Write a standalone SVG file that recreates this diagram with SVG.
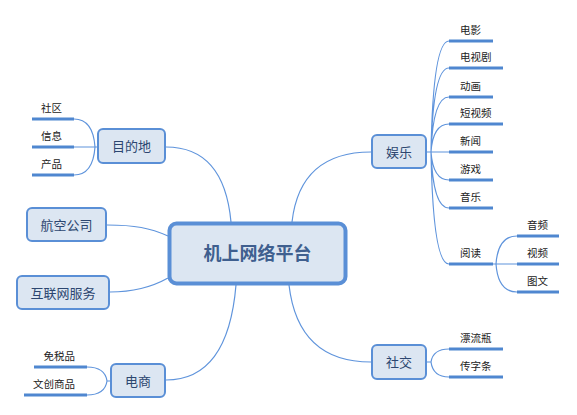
<svg xmlns="http://www.w3.org/2000/svg" width="577" height="415" viewBox="0 0 577 415">
<style>
.bg{fill:#ffffff}
.node rect{fill:#dce6f2;stroke:#5a8fd6;stroke-width:2}
.node text{font-family:"Noto Sans CJK SC","Noto Sans",sans-serif;font-size:13px;fill:#2c4670;text-anchor:middle}
#root rect{stroke-width:4}
#root text{font-size:18px;font-weight:bold;fill:#3f5f8f}
.conn path{fill:none;stroke:#5f94dc;stroke-width:1.2}
.leaf line{stroke:#4f87d0;stroke-width:3}
.leaf text{font-family:"Noto Sans CJK SC","Noto Sans",sans-serif;font-size:10.5px;fill:#222}
.l{text-anchor:end}
</style>
<rect class="bg" width="577" height="415"/>
<g id="connectors" class="conn">
<path d="M166,147 Q224,147 231,222"/>
<path d="M371,152 Q300,152 292,222"/>
<path d="M107,225 C135,225 150,228 168,236"/>
<path d="M110,292 C135,292 152,287 168,278"/>
<path d="M166,380 Q228,380 236,285"/>
<path d="M371,362 Q298,362 289,285"/>
<path d="M97,147 H95 M95,147 Q93,119 74,119 M95,147 H74 M95,147 Q93,175 74,175"/>
<path d="M110,381 H107 M107,381 Q105,367 87,367 M107,381 Q105,395 87,395"/>
<path d="M427,152 H431 M431,152 Q433,41 449,41 M431,152 Q433,68 449,68 M431,152 Q433,97 449,97 M431,152 Q433,124 449,124 M431,152 H449 M431,152 Q433,180 449,180 M431,152 Q433,208 449,208 M431,152 Q433,264 449,264"/>
<path d="M493,264 H496 M496,264 Q498,236 517,236 M496,264 H517 M496,264 Q498,292 517,292"/>
<path d="M427,362 H431 M431,362 Q433,349 449,349 M431,362 Q433,377 449,377"/>
</g>
<g id="root" class="node"><rect x="169.5" y="223.5" width="176" height="60" rx="7"/><text x="257.5" y="260">机上网络平台</text></g>
<g id="n-mudidi" class="node"><rect x="98" y="129" width="67" height="34" rx="5"/><text x="131.5" y="151">目的地</text></g>
<g id="n-hangkong" class="node"><rect x="27" y="208" width="79" height="33" rx="5"/><text x="66.5" y="229.5">航空公司</text></g>
<g id="n-hulianwang" class="node"><rect x="17" y="276" width="92" height="33" rx="5"/><text x="63" y="297.5">互联网服务</text></g>
<g id="n-dianshang" class="node"><rect x="111" y="364" width="54" height="33" rx="5"/><text x="138" y="385.5">电商</text></g>
<g id="n-yule" class="node"><rect x="372" y="135" width="54" height="33" rx="5"/><text x="399" y="156.5">娱乐</text></g>
<g id="n-shejiao" class="node"><rect x="372" y="345" width="54" height="34" rx="5"/><text x="399" y="366.5">社交</text></g>
<g id="leaf-shequ" class="leaf"><line x1="32" y1="119" x2="74" y2="119"/><text class="l" x="62" y="112">社区</text></g>
<g id="leaf-xinxi" class="leaf"><line x1="32" y1="147" x2="74" y2="147"/><text class="l" x="62" y="140">信息</text></g>
<g id="leaf-chanpin" class="leaf"><line x1="32" y1="175" x2="74" y2="175"/><text class="l" x="62" y="168">产品</text></g>
<g id="leaf-mianshui" class="leaf"><line x1="34" y1="367" x2="87" y2="367"/><text class="l" x="75" y="360">免税品</text></g>
<g id="leaf-wenchuang" class="leaf"><line x1="24" y1="395" x2="87" y2="395"/><text class="l" x="75" y="388">文创商品</text></g>
<g id="leaf-dianying" class="leaf"><line x1="449" y1="41" x2="493" y2="41"/><text x="460" y="34">电影</text></g>
<g id="leaf-dianshiju" class="leaf"><line x1="449" y1="68" x2="503" y2="68"/><text x="460" y="61">电视剧</text></g>
<g id="leaf-donghua" class="leaf"><line x1="449" y1="97" x2="493" y2="97"/><text x="460" y="90">动画</text></g>
<g id="leaf-duanshipin" class="leaf"><line x1="449" y1="124" x2="503" y2="124"/><text x="460" y="117">短视频</text></g>
<g id="leaf-xinwen" class="leaf"><line x1="449" y1="152" x2="493" y2="152"/><text x="460" y="145">新闻</text></g>
<g id="leaf-youxi" class="leaf"><line x1="449" y1="180" x2="493" y2="180"/><text x="460" y="173">游戏</text></g>
<g id="leaf-yinyue" class="leaf"><line x1="449" y1="208" x2="493" y2="208"/><text x="460" y="201">音乐</text></g>
<g id="leaf-yuedu" class="leaf"><line x1="449" y1="264" x2="493" y2="264"/><text x="460" y="257">阅读</text></g>
<g id="leaf-yinpin" class="leaf"><line x1="517" y1="236" x2="559" y2="236"/><text x="527" y="229">音频</text></g>
<g id="leaf-shipin" class="leaf"><line x1="517" y1="264" x2="559" y2="264"/><text x="527" y="257">视频</text></g>
<g id="leaf-tuwen" class="leaf"><line x1="517" y1="292" x2="559" y2="292"/><text x="527" y="285">图文</text></g>
<g id="leaf-piaoliuping" class="leaf"><line x1="449" y1="349" x2="503" y2="349"/><text x="460" y="342">漂流瓶</text></g>
<g id="leaf-chuanzitiao" class="leaf"><line x1="449" y1="377" x2="503" y2="377"/><text x="460" y="370">传字条</text></g>
</svg>
